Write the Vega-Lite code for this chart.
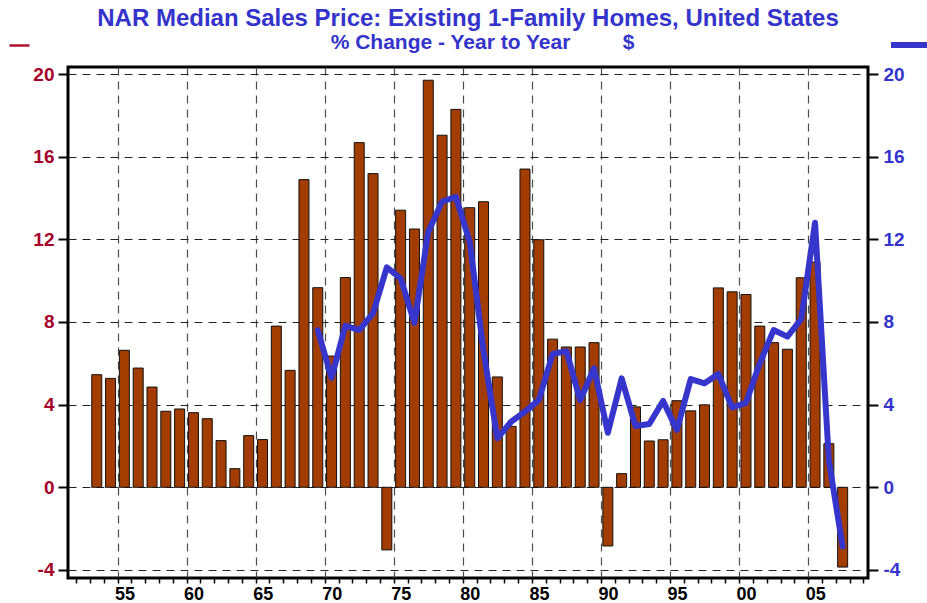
{
  "$schema": "https://vega.github.io/schema/vega-lite/v6.json",
  "width": 800,
  "height": 511,
  "autosize": {"type": "none"},
  "padding": {"left": 68, "top": 67, "right": 59, "bottom": 25},
  "background": "white",
  "config": {
    "view": {"stroke": "black", "strokeWidth": 3},
    "font": "Liberation Sans"
  },
  "title": {
    "text": "NAR Median Sales Price: Existing 1-Family Homes, United States",
    "subtitle": "\u200b\u00a0\u00a0\u00a0\u00a0\u00a0% Change - Year to Year\u00a0\u00a0\u00a0\u00a0\u00a0\u00a0\u00a0\u00a0\u00a0$",
    "anchor": "middle",
    "frame": "group",
    "font": "Liberation Sans",
    "fontSize": 24,
    "fontWeight": "bold",
    "color": "#3434CC",
    "subtitleFont": "Liberation Sans",
    "subtitleFontSize": 21,
    "subtitleFontWeight": "bold",
    "subtitleColor": "#3434CC",
    "subtitlePadding": 1,
    "offset": -31
  },
  "datasets": {
    "bars": [
      {"date": "1953-07-01", "series": "% Change", "value": 5.45},
      {"date": "1954-07-01", "series": "% Change", "value": 5.27},
      {"date": "1955-07-01", "series": "% Change", "value": 6.63},
      {"date": "1956-07-01", "series": "% Change", "value": 5.77},
      {"date": "1957-07-01", "series": "% Change", "value": 4.85},
      {"date": "1958-07-01", "series": "% Change", "value": 3.68},
      {"date": "1959-07-01", "series": "% Change", "value": 3.79},
      {"date": "1960-07-01", "series": "% Change", "value": 3.61},
      {"date": "1961-07-01", "series": "% Change", "value": 3.32},
      {"date": "1962-07-01", "series": "% Change", "value": 2.26},
      {"date": "1963-07-01", "series": "% Change", "value": 0.9},
      {"date": "1964-07-01", "series": "% Change", "value": 2.5},
      {"date": "1965-07-01", "series": "% Change", "value": 2.31},
      {"date": "1966-07-01", "series": "% Change", "value": 7.8},
      {"date": "1967-07-01", "series": "% Change", "value": 5.66},
      {"date": "1968-07-01", "series": "% Change", "value": 14.89},
      {"date": "1969-07-01", "series": "% Change", "value": 9.66},
      {"date": "1970-07-01", "series": "% Change", "value": 6.35},
      {"date": "1971-07-01", "series": "% Change", "value": 10.15},
      {"date": "1972-07-01", "series": "% Change", "value": 16.68},
      {"date": "1973-07-01", "series": "% Change", "value": 15.18},
      {"date": "1974-07-01", "series": "% Change", "value": -3.03},
      {"date": "1975-07-01", "series": "% Change", "value": 13.41},
      {"date": "1976-07-01", "series": "% Change", "value": 12.5},
      {"date": "1977-07-01", "series": "% Change", "value": 19.7},
      {"date": "1978-07-01", "series": "% Change", "value": 17.04},
      {"date": "1979-07-01", "series": "% Change", "value": 18.29},
      {"date": "1980-07-01", "series": "% Change", "value": 13.53},
      {"date": "1981-07-01", "series": "% Change", "value": 13.82},
      {"date": "1982-07-01", "series": "% Change", "value": 5.34},
      {"date": "1983-07-01", "series": "% Change", "value": 2.95},
      {"date": "1984-07-01", "series": "% Change", "value": 15.4},
      {"date": "1985-07-01", "series": "% Change", "value": 11.98},
      {"date": "1986-07-01", "series": "% Change", "value": 7.17},
      {"date": "1987-07-01", "series": "% Change", "value": 6.79},
      {"date": "1988-07-01", "series": "% Change", "value": 6.79},
      {"date": "1989-07-01", "series": "% Change", "value": 7.0},
      {"date": "1990-07-01", "series": "% Change", "value": -2.84},
      {"date": "1991-07-01", "series": "% Change", "value": 0.66},
      {"date": "1992-07-01", "series": "% Change", "value": 3.89},
      {"date": "1993-07-01", "series": "% Change", "value": 2.24},
      {"date": "1994-07-01", "series": "% Change", "value": 2.3},
      {"date": "1995-07-01", "series": "% Change", "value": 4.19},
      {"date": "1996-07-01", "series": "% Change", "value": 3.7},
      {"date": "1997-07-01", "series": "% Change", "value": 3.99},
      {"date": "1998-07-01", "series": "% Change", "value": 9.65},
      {"date": "1999-07-01", "series": "% Change", "value": 9.46},
      {"date": "2000-07-01", "series": "% Change", "value": 9.33},
      {"date": "2001-07-01", "series": "% Change", "value": 7.8},
      {"date": "2002-07-01", "series": "% Change", "value": 7.0},
      {"date": "2003-07-01", "series": "% Change", "value": 6.68},
      {"date": "2004-07-01", "series": "% Change", "value": 10.14},
      {"date": "2005-07-01", "series": "% Change", "value": 10.9},
      {"date": "2006-07-01", "series": "% Change", "value": 2.11},
      {"date": "2007-07-01", "series": "% Change", "value": -3.86}
    ],
    "line": [
      {"date": "1969-07-01", "series": "$", "value": 7.6},
      {"date": "1970-07-01", "series": "$", "value": 5.3},
      {"date": "1971-07-01", "series": "$", "value": 7.82},
      {"date": "1972-07-01", "series": "$", "value": 7.61},
      {"date": "1973-07-01", "series": "$", "value": 8.42},
      {"date": "1974-07-01", "series": "$", "value": 10.64},
      {"date": "1975-07-01", "series": "$", "value": 10.11},
      {"date": "1976-07-01", "series": "$", "value": 7.96},
      {"date": "1977-07-01", "series": "$", "value": 12.37},
      {"date": "1978-07-01", "series": "$", "value": 13.82},
      {"date": "1979-07-01", "series": "$", "value": 14.06},
      {"date": "1980-07-01", "series": "$", "value": 11.88},
      {"date": "1981-07-01", "series": "$", "value": 6.6},
      {"date": "1982-07-01", "series": "$", "value": 2.37},
      {"date": "1983-07-01", "series": "$", "value": 3.17},
      {"date": "1984-07-01", "series": "$", "value": 3.66},
      {"date": "1985-07-01", "series": "$", "value": 4.22},
      {"date": "1986-07-01", "series": "$", "value": 6.45},
      {"date": "1987-07-01", "series": "$", "value": 6.59},
      {"date": "1988-07-01", "series": "$", "value": 4.22},
      {"date": "1989-07-01", "series": "$", "value": 5.76},
      {"date": "1990-07-01", "series": "$", "value": 2.64},
      {"date": "1991-07-01", "series": "$", "value": 5.27},
      {"date": "1992-07-01", "series": "$", "value": 2.97},
      {"date": "1993-07-01", "series": "$", "value": 3.06},
      {"date": "1994-07-01", "series": "$", "value": 4.18},
      {"date": "1995-07-01", "series": "$", "value": 2.78},
      {"date": "1996-07-01", "series": "$", "value": 5.24},
      {"date": "1997-07-01", "series": "$", "value": 5.03},
      {"date": "1998-07-01", "series": "$", "value": 5.48},
      {"date": "1999-07-01", "series": "$", "value": 3.87},
      {"date": "2000-07-01", "series": "$", "value": 4.09},
      {"date": "2001-07-01", "series": "$", "value": 6.0},
      {"date": "2002-07-01", "series": "$", "value": 7.61},
      {"date": "2003-07-01", "series": "$", "value": 7.29},
      {"date": "2004-07-01", "series": "$", "value": 8.14},
      {"date": "2005-07-01", "series": "$", "value": 12.8},
      {"date": "2006-07-01", "series": "$", "value": 1.3},
      {"date": "2007-07-01", "series": "$", "value": -2.87}
    ]
  },
  "layer": [
    {
      "layer": [
        {
          "data": {"name": "bars"},
          "mark": {"type": "bar", "width": 10, "stroke": "#111111", "strokeWidth": 1},
          "encoding": {
            "x": {
              "field": "date",
              "type": "temporal",
              "scale": {
                "type": "utc",
                "domain": [
                  {"year": 1951, "month": 10, "date": 12, "utc": true},
                  {"year": 2008, "month": 12, "date": 20, "utc": true}
                ]
              },
              "axis": {
                "title": null,
                "domain": false,
                "tickCount": {"interval": "year", "step": 1},
                "labelExpr": "utcyear(datum.value) % 5 === 0 ? utcFormat(datum.value, '%y') : ''",
                "labelOverlap": false,
                "labelFlush": false,
                "labelBound": false,
                "labelOffset": 7,
                "labelPadding": 2,
                "labelFont": "Liberation Sans",
                "labelFontSize": 18,
                "labelFontWeight": "bold",
                "labelColor": "black",
                "tickSize": 5,
                "tickWidth": 1.5,
                "tickColor": "black",
                "grid": true,
                "gridColor": "#3a3a3a",
                "gridDash": [8, 6],
                "gridWidth": 1.2,
                "gridOpacity": {"condition": {"test": "utcyear(datum.value) % 5 === 0", "value": 0.9}, "value": 0}
              }
            },
            "y": {
              "field": "value",
              "type": "quantitative",
              "scale": {"domain": [-4.39, 20.34], "nice": false, "zero": false},
              "axis": {
                "title": null,
                "orient": "left",
                "domain": false,
                "values": [-4, 0, 4, 8, 12, 16, 20],
                "labelExpr": "'' + datum.value",
                "labelFont": "Liberation Sans",
                "labelFontSize": 19,
                "labelFontWeight": "bold",
                "labelColor": "#A5002A",
                "labelPadding": 4,
                "tickSize": 10,
                "tickWidth": 2,
                "tickColor": "black",
                "grid": true,
                "gridColor": "#222222",
                "gridDash": [8, 6],
                "gridWidth": 1.2
              }
            },
            "fill": {
              "field": "series",
              "type": "nominal",
              "scale": {"range": ["#A33C00"]},
              "legend": {
                "orient": "none",
                "legendX": -60,
                "legendY": -33,
                "title": null,
                "padding": 0,
                "symbolType": "stroke",
                "symbolStrokeColor": "#B0102C",
                "symbolStrokeWidth": 2.5,
                "symbolSize": 400,
                "labelExpr": "''"
              }
            }
          }
        },
        {
          "mark": {"type": "rule", "stroke": "#142014", "strokeWidth": 2},
          "encoding": {"y": {"datum": 0}}
        }
      ]
    },
    {
      "data": {"name": "line"},
      "mark": {"type": "line", "strokeWidth": 6, "strokeCap": "round", "strokeJoin": "round"},
      "encoding": {
        "x": {"field": "date", "type": "temporal"},
        "y": {
          "field": "value",
          "type": "quantitative",
          "scale": {"domain": [-4.39, 20.34], "nice": false, "zero": false},
          "axis": {
            "title": null,
            "orient": "right",
            "domain": false,
            "values": [-4, 0, 4, 8, 12, 16, 20],
            "labelExpr": "'' + datum.value",
            "labelFont": "Liberation Sans",
            "labelFontSize": 19,
            "labelFontWeight": "bold",
            "labelColor": "#3434CC",
            "labelPadding": 5,
            "tickSize": 10,
            "tickWidth": 2,
            "tickColor": "black",
            "grid": false
          }
        },
        "color": {
          "field": "series",
          "type": "nominal",
          "scale": {"range": ["#3636CC"]},
          "legend": {
            "orient": "none",
            "legendX": 820,
            "legendY": -45,
            "title": null,
            "padding": 0,
            "symbolType": "stroke",
            "symbolStrokeWidth": 6,
            "symbolSize": 1600,
            "labelExpr": "''"
          }
        }
      }
    }
  ],
  "resolve": {"scale": {"y": "independent"}}
}
